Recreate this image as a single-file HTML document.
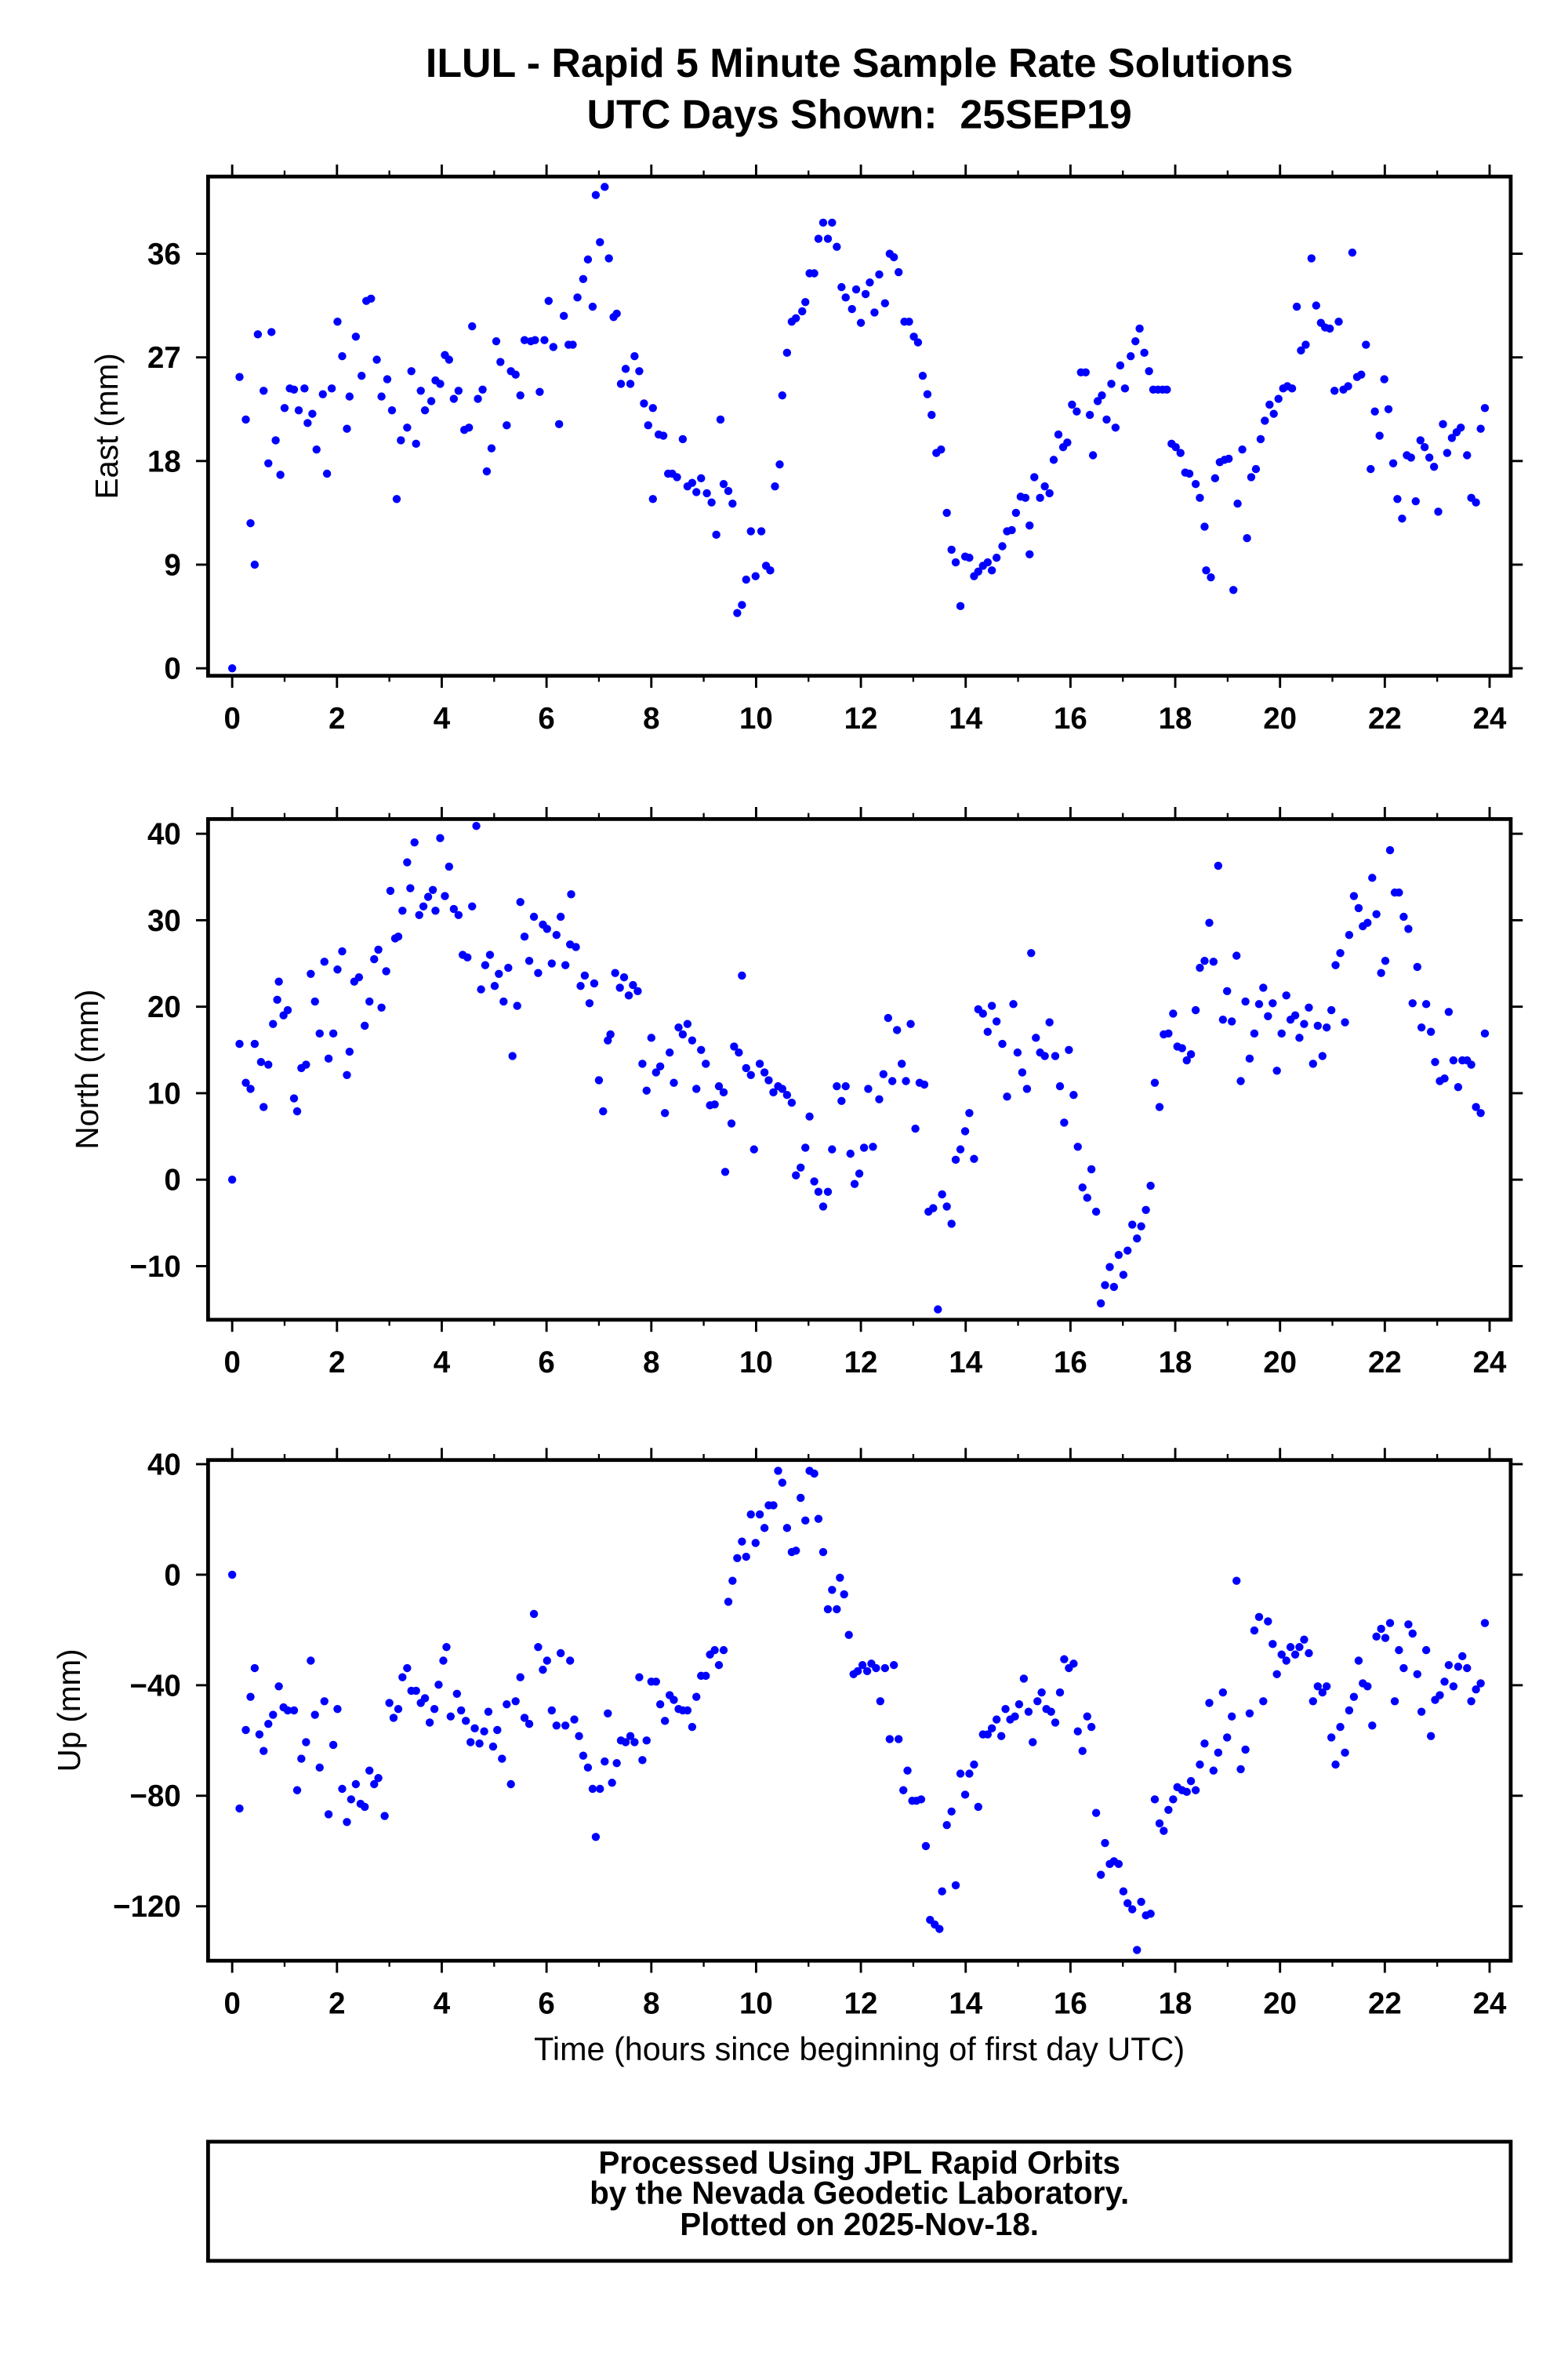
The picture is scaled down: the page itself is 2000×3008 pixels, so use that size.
<!DOCTYPE html>
<html><head><meta charset="utf-8"><title>ILUL Rapid 5 Minute Solutions</title>
<style>html,body{margin:0;padding:0;background:#fff}svg{display:block}</style></head>
<body>
<svg id="chart" xmlns="http://www.w3.org/2000/svg" width="2000" height="3008" viewBox="0 0 1040 1564" font-family="'Liberation Sans', Arial, sans-serif">
<rect width="1040" height="1564" fill="#fff"/>
<text x="570" y="51" text-anchor="middle" font-size="27" font-weight="bold">ILUL - Rapid 5 Minute Sample Rate Solutions</text>
<text x="570" y="85" text-anchor="middle" font-size="27" font-weight="bold" xml:space="preserve">UTC Days Shown:  25SEP19</text>
<text x="570" y="1366" text-anchor="middle" font-size="21.5">Time (hours since beginning of first day UTC)</text>
<g>
<rect x="138" y="1420" width="864" height="79" fill="none" stroke="#000" stroke-width="2.5"/>
<text x="570" y="1441" text-anchor="middle" font-size="21" font-weight="bold">Processed Using JPL Rapid Orbits</text>
<text x="570" y="1461" text-anchor="middle" font-size="21" font-weight="bold">by the Nevada Geodetic Laboratory.</text>
<text x="570" y="1482" text-anchor="middle" font-size="21" font-weight="bold">Plotted on 2025-Nov-18.</text>
</g>
<g id="plots"></g>
</svg>
<script>
const xTicks = [0,2,4,6,8,10,12,14,16,18,20,22,24];
const eastTicks = [0,9,18,27,36];
const northTicks = [-10,0,10,20,30,40];
const upTicks = [-120,-80,-40,0,40];

const eastHours = [0,0.14,0.26,0.35,0.43,0.49,0.6,0.69,0.75,0.83,0.92,1.0,1.1,1.18,1.27,1.38,1.44,1.53,1.61,1.73,1.81,1.9,2.01,2.1,2.19,2.24,2.36,2.47,2.56,2.65,2.76,2.85,2.96,3.05,3.14,3.22,3.34,3.42,3.51,3.6,3.68,3.8,3.88,3.97,4.06,4.14,4.23,4.32,4.43,4.52,4.58,4.69,4.78,4.86,4.95,5.04,5.12,5.24,5.32,5.41,5.5,5.58,5.7,5.78,5.87,5.96,6.04,6.13,6.24,6.33,6.42,6.5,6.59,6.7,6.79,6.88,6.94,7.02,7.11,7.19,7.28,7.34,7.42,7.51,7.6,7.68,7.77,7.86,7.94,8.03,8.03,8.14,8.23,8.32,8.4,8.49,8.6,8.69,8.78,8.86,8.95,9.06,9.15,9.24,9.32,9.38,9.47,9.55,9.64,9.73,9.81,9.9,9.99,10.1,10.19,10.27,10.36,10.45,10.5,10.59,10.68,10.76,10.88,10.94,11.02,11.11,11.19,11.28,11.37,11.45,11.54,11.63,11.71,11.83,11.91,12,12.09,12.17,12.26,12.35,12.46,12.55,12.63,12.72,12.83,12.92,13.01,13.09,13.18,13.27,13.35,13.44,13.53,13.64,13.73,13.81,13.9,13.99,14.07,14.16,14.24,14.33,14.42,14.5,14.59,14.7,14.79,14.88,14.96,15.05,15.14,15.22,15.22,15.31,15.42,15.51,15.6,15.68,15.77,15.86,15.94,16.03,16.12,16.2,16.29,16.37,16.43,16.52,16.6,16.69,16.78,16.86,16.95,17.04,17.15,17.24,17.32,17.41,17.5,17.58,17.67,17.76,17.84,17.93,18.01,18.1,18.19,18.27,18.39,18.47,18.56,18.59,18.68,18.76,18.85,18.94,19.02,19.11,19.19,19.28,19.37,19.45,19.54,19.63,19.71,19.8,19.88,19.97,20.06,20.14,20.23,20.32,20.4,20.49,20.6,20.69,20.78,20.86,20.95,21.04,21.12,21.21,21.3,21.38,21.47,21.55,21.64,21.73,21.81,21.9,21.99,22.07,22.16,22.24,22.33,22.42,22.5,22.59,22.68,22.76,22.85,22.94,23.02,23.11,23.19,23.28,23.37,23.45,23.57,23.65,23.74,23.83,23.91];
const eastValues = [0,25.3,21.6,12.6,9,29,24.1,17.8,29.2,19.8,16.8,22.6,24.3,24.2,22.4,24.3,21.3,22.1,19,23.8,16.9,24.3,30.1,27.1,20.8,23.6,28.8,25.4,31.9,32.1,26.8,23.6,25.1,22.4,14.7,19.8,20.9,25.8,19.5,24.1,22.4,23.2,25,24.7,27.2,26.8,23.4,24.1,20.7,20.9,29.7,23.4,24.2,17.1,19.1,28.4,26.6,21.1,25.8,25.5,23.7,28.5,28.4,28.5,24,28.5,31.9,27.9,21.2,30.6,28.1,28.1,32.2,33.8,35.5,31.4,41.1,37,41.8,35.6,30.5,30.8,24.7,26,24.7,27.1,25.8,23,21.1,22.6,14.7,20.3,20.2,16.9,16.9,16.6,19.9,15.8,16.1,15.3,16.5,15.2,14.4,11.6,21.6,16,15.4,14.3,4.8,5.5,7.7,11.9,8,11.9,8.9,8.5,15.8,17.7,23.7,27.4,30.1,30.4,31,31.8,34.3,34.3,37.3,38.7,37.3,38.7,36.6,33.1,32.2,31.2,32.9,30,32.5,33.5,30.9,34.2,31.7,36,35.7,34.4,30.1,30.1,28.8,28.3,25.4,23.8,22,18.7,19,13.5,10.3,9.2,5.4,9.7,9.6,8,8.4,8.9,9.2,8.5,9.6,10.6,11.9,12,13.5,14.9,14.8,12.4,9.9,16.6,14.8,15.8,15.2,18.1,20.3,19.2,19.6,22.9,22.3,25.7,25.7,22,18.5,23.2,23.7,21.6,24.7,20.9,26.3,24.3,27.1,28.4,29.5,27.4,25.8,24.2,24.2,24.2,24.2,19.5,19.2,18.7,17,16.9,16,14.8,12.3,8.5,7.9,16.5,17.9,18.1,18.2,6.8,14.3,19,11.3,16.6,17.3,19.9,21.5,22.9,22.1,23.4,24.3,24.5,24.3,31.4,27.6,28.1,35.6,31.5,30,29.6,29.5,24.1,30.1,24.2,24.5,36.1,25.3,25.5,28.1,17.3,22.3,20.2,25.1,22.5,17.8,14.7,13,18.5,18.3,14.5,19.8,19.2,18.3,17.5,13.6,21.2,18.7,20,20.5,20.9,18.5,14.8,14.4,20.8,22.6];

const northHours = [0,0.14,0.26,0.35,0.43,0.55,0.6,0.69,0.78,0.86,0.89,0.98,1.06,1.18,1.24,1.32,1.41,1.5,1.58,1.67,1.76,1.84,1.93,2.01,2.1,2.19,2.24,2.33,2.42,2.53,2.62,2.71,2.79,2.85,2.94,3.02,3.11,3.17,3.25,3.34,3.4,3.48,3.57,3.65,3.74,3.83,3.88,3.97,4.06,4.14,4.23,4.32,4.4,4.49,4.58,4.66,4.75,4.83,4.92,5.01,5.09,5.18,5.27,5.35,5.44,5.5,5.58,5.67,5.76,5.84,5.93,6.01,6.1,6.19,6.27,6.36,6.45,6.47,6.56,6.65,6.73,6.82,6.91,7,7.08,7.17,7.22,7.31,7.4,7.48,7.57,7.65,7.74,7.83,7.91,8,8.09,8.17,8.26,8.35,8.43,8.52,8.6,8.69,8.78,8.86,8.95,9.04,9.12,9.21,9.29,9.38,9.41,9.53,9.58,9.67,9.73,9.81,9.9,9.96,10.07,10.16,10.24,10.33,10.42,10.5,10.59,10.68,10.76,10.85,10.94,11.02,11.11,11.19,11.28,11.37,11.45,11.54,11.63,11.71,11.8,11.88,11.97,12.06,12.14,12.23,12.35,12.43,12.52,12.6,12.69,12.78,12.86,12.95,13.04,13.12,13.21,13.29,13.38,13.47,13.55,13.64,13.73,13.81,13.9,13.99,14.07,14.16,14.24,14.33,14.42,14.5,14.59,14.7,14.79,14.91,14.99,15.08,15.17,15.25,15.34,15.42,15.51,15.6,15.71,15.8,15.88,15.97,16.06,16.14,16.23,16.32,16.4,16.49,16.58,16.66,16.75,16.83,16.92,17.01,17.09,17.18,17.27,17.35,17.44,17.53,17.61,17.7,17.78,17.87,17.96,18.04,18.13,18.22,18.3,18.39,18.47,18.56,18.65,18.73,18.82,18.91,18.99,19.08,19.17,19.25,19.34,19.42,19.51,19.6,19.68,19.77,19.86,19.94,20.03,20.12,20.2,20.29,20.37,20.46,20.55,20.63,20.72,20.81,20.89,20.98,21.06,21.15,21.24,21.32,21.41,21.5,21.58,21.67,21.76,21.84,21.93,22.01,22.1,22.19,22.27,22.36,22.45,22.53,22.62,22.7,22.79,22.88,22.96,23.05,23.14,23.22,23.31,23.4,23.48,23.57,23.65,23.74,23.83,23.91];
const northValues = [0,15.7,11.2,10.5,15.7,13.6,8.4,13.3,18,20.8,22.9,19,19.6,9.4,7.9,12.9,13.3,23.8,20.6,16.9,25.2,14,16.9,24.3,26.4,12.1,14.8,22.9,23.4,17.8,20.6,25.5,26.6,19.9,24.1,33.4,27.9,28.1,31.1,36.7,33.7,39,30.6,31.6,32.7,33.5,31.1,39.5,32.8,36.2,31.3,30.6,26,25.7,31.6,40.9,22,24.8,26,22.4,23.8,20.6,24.5,14.3,20.1,32.1,28.1,25.3,30.4,23.9,29.5,29,25,28.3,30.4,24.8,27.2,33,26.9,22.4,23.6,20.4,22.7,11.5,7.9,16.1,16.8,23.9,22.2,23.4,21.3,22.5,21.8,13.4,10.3,16.4,12.4,13.1,7.7,14.7,11.2,17.6,16.8,18,16.1,10.5,15,13.4,8.6,8.7,10.8,10.1,0.9,6.5,15.4,14.7,23.6,12.9,12.1,3.5,13.4,12.4,11.5,10.1,10.8,10.5,9.8,8.9,0.5,1.4,3.7,7.3,-0.2,-1.4,-3.1,-1.4,3.5,10.8,9.1,10.8,3,-0.5,0.7,3.7,10.5,3.8,9.3,12.2,18.7,11.4,17.3,13.4,11.4,18,5.9,11.2,11,-3.7,-3.3,-15,-1.7,-3.1,-5.1,2.3,3.5,5.6,7.7,2.4,19.7,19.2,17.1,20.1,18.3,15.7,9.6,20.3,14.7,12.4,10.5,26.2,16.4,14.7,14.3,18.2,14.3,10.8,6.6,15,9.8,3.8,-0.9,-2.1,1.2,-3.7,-14.3,-12.2,-10.1,-12.4,-8.7,-11,-8.2,-5.2,-6.8,-5.4,-3.5,-0.7,11.2,8.4,16.8,16.9,19.2,15.4,15.2,13.8,14.5,19.6,24.5,25.3,29.7,25.2,36.3,18.5,21.8,18.3,25.9,11.4,20.6,14,16.9,20.3,22.2,18.9,20.4,12.6,16.9,21.3,18.5,19,16.4,18,19.9,13.4,17.8,14.3,17.6,19.6,24.8,26.2,18.2,28.3,32.8,31.4,29.3,29.7,34.9,30.7,23.9,25.3,38.1,33.2,33.2,30.4,29,20.4,24.6,17.6,20.3,17.1,13.6,11.4,11.7,19.4,13.8,10.7,13.8,13.8,13.3,8.4,7.7,16.9];

const upHours = [0,0.14,0.26,0.35,0.43,0.52,0.6,0.69,0.78,0.89,0.98,1.06,1.18,1.24,1.32,1.41,1.5,1.58,1.67,1.76,1.84,1.93,2.01,2.1,2.19,2.27,2.36,2.45,2.53,2.62,2.71,2.79,2.91,3,3.08,3.17,3.25,3.34,3.42,3.51,3.6,3.68,3.77,3.86,3.94,4.03,4.09,4.17,4.29,4.37,4.46,4.55,4.63,4.72,4.81,4.89,4.98,5.06,5.15,5.24,5.32,5.41,5.5,5.58,5.67,5.76,5.84,5.93,6.01,6.1,6.19,6.27,6.36,6.45,6.53,6.62,6.7,6.79,6.88,6.94,7.02,7.11,7.17,7.25,7.34,7.42,7.51,7.6,7.68,7.77,7.83,7.91,8,8.09,8.17,8.26,8.35,8.43,8.52,8.6,8.69,8.78,8.86,8.95,9.04,9.12,9.21,9.29,9.38,9.47,9.55,9.64,9.73,9.81,9.9,9.99,10.07,10.16,10.24,10.33,10.42,10.5,10.59,10.68,10.76,10.85,10.94,11.02,11.11,11.19,11.28,11.37,11.45,11.54,11.6,11.68,11.77,11.86,11.94,12.03,12.12,12.2,12.29,12.37,12.46,12.55,12.63,12.72,12.81,12.89,12.98,13.06,13.15,13.24,13.32,13.41,13.5,13.55,13.64,13.73,13.81,13.9,13.99,14.07,14.16,14.24,14.33,14.42,14.5,14.59,14.68,14.76,14.85,14.94,15.02,15.11,15.2,15.28,15.37,15.45,15.54,15.63,15.71,15.8,15.88,15.97,16.06,16.14,16.23,16.32,16.4,16.49,16.58,16.66,16.75,16.83,16.92,17.01,17.09,17.18,17.27,17.35,17.44,17.53,17.61,17.7,17.78,17.87,17.96,18.04,18.13,18.22,18.3,18.39,18.47,18.56,18.65,18.73,18.82,18.91,18.99,19.08,19.17,19.25,19.34,19.42,19.51,19.6,19.68,19.77,19.86,19.94,20.03,20.12,20.2,20.29,20.37,20.46,20.55,20.63,20.72,20.81,20.89,20.98,21.06,21.15,21.24,21.32,21.41,21.5,21.58,21.67,21.76,21.84,21.93,22.01,22.1,22.19,22.27,22.36,22.45,22.53,22.62,22.7,22.79,22.88,22.96,23.05,23.14,23.22,23.31,23.4,23.48,23.57,23.65,23.74,23.83,23.91];
const upValues = [0,-84.6,-56.2,-44.2,-33.8,-57.8,-63.8,-54,-50.7,-40.4,-48,-49.1,-49.1,-78,-66.6,-60.6,-31.1,-50.7,-69.8,-45.8,-86.7,-61.6,-48.6,-77.5,-89.5,-81.3,-75.8,-82.9,-84,-70.9,-75.8,-73.6,-87.3,-46.4,-51.8,-48.6,-37.1,-33.8,-42,-42,-46.4,-44.7,-53.5,-48.6,-39.8,-31.1,-26.2,-51.3,-43.1,-49.1,-52.9,-60.6,-55.6,-61.1,-56.7,-49.6,-62.2,-56.2,-66.6,-46.9,-75.8,-45.8,-37.1,-51.8,-54,-14.2,-26.2,-34.4,-31.1,-49.1,-54.6,-28.4,-54.6,-31.1,-52.4,-58.4,-65.5,-69.8,-77.5,-94.9,-77.5,-67.6,-50.2,-75.3,-68.2,-60,-60.6,-58.4,-60.6,-37.1,-67.1,-60,-38.7,-38.7,-46.9,-52.9,-43.6,-45.3,-48.6,-49.1,-49.1,-55.1,-44.2,-36.6,-36.6,-28.9,-27.3,-32.7,-27.3,-9.8,-2.2,6,12,6.5,21.8,11.5,21.8,16.9,25.1,25.1,37.6,33.3,16.9,8.2,8.7,27.8,19.6,37.6,36.6,20.2,8.2,-12.5,-5.5,-12.5,-1.1,-7.1,-21.8,-36,-34.9,-32.7,-34.9,-32.2,-33.8,-45.8,-33.8,-59.5,-32.7,-59.5,-78,-70.9,-81.8,-81.8,-81.3,-98.2,-124.9,-126.6,-128.2,-114.6,-90.6,-85.7,-112.4,-72,-79.6,-72,-68.7,-84,-57.8,-57.8,-55.6,-52.4,-58.4,-48.6,-52.4,-51.3,-46.9,-37.6,-49.6,-60.6,-45.8,-42.6,-48.6,-49.6,-53.5,-42.6,-30.6,-33.8,-32.2,-56.7,-63.8,-51.3,-55.1,-86.2,-108.6,-97.1,-104.7,-103.7,-104.7,-114.6,-118.9,-121.1,-135.8,-118.4,-123.3,-122.7,-81.3,-90,-92.7,-85.1,-81.3,-76.9,-78,-78.6,-74.7,-78,-68.7,-61.1,-46.4,-70.9,-64.4,-42.6,-58.9,-51.3,-2.2,-70.4,-63.3,-50.2,-20.2,-15.3,-45.8,-16.9,-25.1,-36,-28.9,-31.1,-26.2,-28.9,-26.2,-23.5,-28.4,-45.8,-40.4,-42.6,-40.4,-58.9,-68.7,-55.1,-64.4,-49.1,-44.2,-31.1,-39.3,-40.4,-54.6,-22.4,-19.6,-22.9,-17.5,-45.8,-27.3,-33.8,-18,-21.3,-36,-49.6,-27.3,-58.4,-45.3,-43.6,-38.7,-32.7,-40.4,-33.3,-29.5,-33.8,-45.8,-41.5,-39.3,-17.5];

const NS = 'http://www.w3.org/2000/svg';
const plots = document.getElementById('plots');
const FL = 138, FR = 1002;
function xScale(h){ return 154 + h * (988 - 154) / 24; }
function mk(tag, attrs, parent){ const e = document.createElementNS(NS, tag); for (const k in attrs) e.setAttribute(k, attrs[k]); parent.appendChild(e); return e; }

const panels = [
  {key:'east', title:'East (mm)', top:117, bot:448, vmin:-0.65, vmax:42.7, ticks:eastTicks, hours:eastHours, vals:eastValues, tx:78},
  {key:'north', title:'North (mm)', top:543, bot:875, vmin:-16.2, vmax:41.7, ticks:northTicks, hours:northHours, vals:northValues, tx:65},
  {key:'up', title:'Up (mm)', top:968, bot:1300, vmin:-139.7, vmax:41.5, ticks:upTicks, hours:upHours, vals:upValues, tx:53}
];

panels.forEach(p => {
  const g = mk('g', {}, plots);
  
  
  const yScale = v => p.bot - (v - p.vmin) / (p.vmax - p.vmin) * (p.bot - p.top);
  xTicks.forEach(t => {
    const x = xScale(t);
    mk('line', {x1:x, x2:x, y1:p.bot, y2:p.bot+8, stroke:'#000', 'stroke-width':1.5}, g);
    mk('line', {x1:x, x2:x, y1:p.top, y2:p.top-8, stroke:'#000', 'stroke-width':1.5}, g);
    const lbl = mk('text', {x:x, y:p.bot+35, 'text-anchor':'middle', 'font-size':20, 'font-weight':'bold'}, g);
    lbl.textContent = t;
    
    
  });
  for (let t = 1; t < 24; t += 2) {
    const x = xScale(t);
    mk('line', {x1:x, x2:x, y1:p.bot, y2:p.bot+4, stroke:'#000', 'stroke-width':1.2}, g);
    mk('line', {x1:x, x2:x, y1:p.top, y2:p.top-4, stroke:'#000', 'stroke-width':1.2}, g);
  }
  p.ticks.forEach(t => {
    const y = yScale(t);
    mk('line', {x1:FL-8, x2:FL, y1:y, y2:y, stroke:'#000', 'stroke-width':1.5}, g);
    mk('line', {x1:FR, x2:FR+8, y1:y, y2:y, stroke:'#000', 'stroke-width':1.5}, g);
    const lbl = mk('text', {x:FL-18, y:y+7, 'text-anchor':'end', 'font-size':20, 'font-weight':'bold'}, g);
    lbl.textContent = t < 0 ? '\u2212' + Math.abs(t) : t;
    
    
  });
  const yt = mk('text', {x:p.tx, y:(p.top+p.bot)/2, 'text-anchor':'middle', 'font-size':21, transform:'rotate(-90 '+p.tx+' '+((p.top+p.bot)/2)+')'}, g);
  yt.textContent = p.title;
  
  
  const pts = mk('g', {fill:'#0000ff'}, g);
  
  
  p.hours.forEach((h, i) => {
    const c = mk('circle', {cx:xScale(h), cy:yScale(p.vals[i]), r:2.7}, pts);
    
    
  });
  const fr = mk('rect', {x:FL, y:p.top, width:FR-FL, height:p.bot-p.top, fill:'none', stroke:'#000', 'stroke-width':2.5}, g);
  
  
});
</script>
</body></html>
